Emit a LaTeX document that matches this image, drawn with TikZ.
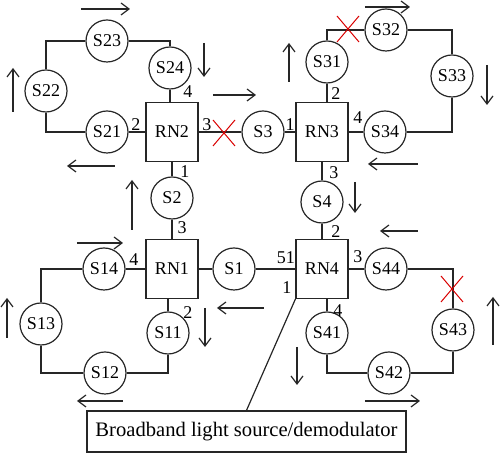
\documentclass[tikz,border=0pt]{standalone}
\usepackage{fontspec}
\setmainfont{Liberation Serif}
\usetikzlibrary{arrows.meta}
\tikzset{
  stn/.style={draw, circle, minimum size=21pt, inner sep=0pt, font=\fontsize{9}{10}\selectfont},
  rn/.style={draw, fill=white, minimum width=26pt, minimum height=29.5pt, inner sep=0pt, font=\fontsize{9}{10}\selectfont},
  port/.style={inner sep=0pt, font=\fontsize{9}{10}\selectfont},
  flow/.style={-{Straight Barb[length=4pt,width=6pt]}},
  cut/.style={red!85!black, line width=0.5pt}
}
\begin{document}
\begin{tikzpicture}[x=0.5pt, y=-0.5pt, line width=0.6pt, draw=black!85]
  \useasboundingbox (0,0) rectangle (500,453);

  \node[rn] (rn2) at (172,132) {RN2};
  \node[rn] (rn3) at (322,132) {RN3};
  \node[rn] (rn1) at (172,269) {RN1};
  \node[rn] (rn4) at (322,269) {RN4};

  \node[stn] (s2) at (172,198) {S2};
  \node[stn] (s4) at (322,202) {S4};
  \node[stn] (s1) at (234,269) {S1};
  \node[stn] (s3) at (263,132) {S3};

  \node[stn] (s21) at (107,132) {S21};
  \node[stn] (s22) at (46,91) {S22};
  \node[stn] (s23) at (107,41) {S23};
  \node[stn] (s24) at (170,68) {S24};

  \node[stn] (s31) at (327,62) {S31};
  \node[stn] (s32) at (386,30) {S32};
  \node[stn] (s33) at (452,76) {S33};
  \node[stn] (s34) at (385,132) {S34};

  \node[stn] (s14) at (104,269) {S14};
  \node[stn] (s13) at (41,324) {S13};
  \node[stn] (s12) at (105,373) {S12};
  \node[stn] (s11) at (168,333) {S11};

  \node[stn] (s44) at (386,269) {S44};
  \node[stn] (s43) at (453,330) {S43};
  \node[stn] (s42) at (389,373) {S42};
  \node[stn] (s41) at (327,333) {S41};

  \node[draw, minimum width=159.5pt, minimum height=20.5pt, inner sep=0pt, font=\fontsize{10.3}{12}\selectfont] (src) at (246.5,431.5) {Broadband light source/demodulator};

  \draw (rn2) -- (s21);
  \draw (s21) -| (s22);
  \draw (s22) |- (s23);
  \draw (s23) -| (s24);
  \draw (s24) -- (s24 |- rn2.north);
  \draw (rn2) -- (s3) -- (rn3);
  \draw (rn2) -- (s2) -- (rn1);
  \draw (rn3) -- (s4) -- (rn4);
  \draw (rn1) -- (s1) -- (rn4);

  \draw (s31) -- (s31 |- rn3.north);
  \draw (s31) |- (s32);
  \draw (s32) -| (s33);
  \draw (s33) |- (s34);
  \draw (s34) -- (rn3);

  \draw (rn1) -- (s14);
  \draw (s14) -| (s13);
  \draw (s13) |- (s12);
  \draw (s12) -| (s11);
  \draw (s11) -- (s11 |- rn1.south);

  \draw (rn4) -- (s44);
  \draw (s44) -| (s43);
  \draw (s43) |- (s42);
  \draw (s42) -| (s41);
  \draw (s41) -- (s41 |- rn4.south);

  \draw (rn4.south west) -- (src.north);

  \foreach \p in {(224,133),(348,29),(452,289)}
    \draw[cut] \p ++(-11,-13) -- ++(22,26) \p ++(-11,13) -- ++(22,-26);

  \node[port] (p24) at (188,92) {4};
  \node[port] (p22) at (136,125) {2};
  \node[port] (p23) at (207,125) {3};
  \node[port] (p21) at (185,172) {1};
  \node[port] (p32) at (336,94) {2};
  \node[port] (p31) at (290,125) {1};
  \node[port] (p34) at (358,118) {4};
  \node[port] (p33) at (334,173) {3};
  \node[port] (p13) at (182,228) {3};
  \node[port] (p14) at (134,260) {4};
  \node[port] (p12) at (188,313) {2};
  \node[port] (p42) at (336,232) {2};
  \node[port] (p451) at (286,258) {51};
  \node[port] (p43) at (358,257) {3};
  \node[port] (p41) at (287,288) {1};
  \node[port] (p44) at (338,311) {4};

  \draw[flow] (81,9) -- ++(49,0);
  \draw[flow] (13,112) -- ++(0,-44);
  \draw[flow] (204,43) -- ++(0,34);
  \draw[flow] (115,166) -- ++(-48,0);
  \draw[flow] (132,230) -- ++(0,-50);
  \draw[flow] (213,95) -- ++(43,0);
  \draw[flow] (289,82) -- ++(0,-39);
  \draw[flow] (365,7) -- ++(45,0);
  \draw[flow] (487,65) -- ++(0,40);
  \draw[flow] (418,164) -- ++(-50,0);
  \draw[flow] (355,182) -- ++(0,31);
  \draw[flow] (418,231) -- ++(-38,0);
  \draw[flow] (493,345) -- ++(0,-48);
  \draw[flow] (365,401) -- ++(55,0);
  \draw[flow] (297,347) -- ++(0,38);
  \draw[flow] (264,308) -- ++(-47,0);
  \draw[flow] (205,308) -- ++(0,39);
  \draw[flow] (7,338) -- ++(0,-40);
  \draw[flow] (77,243) -- ++(46,0);
  \draw[flow] (123,401) -- ++(-46,0);

\end{tikzpicture}
\end{document}
